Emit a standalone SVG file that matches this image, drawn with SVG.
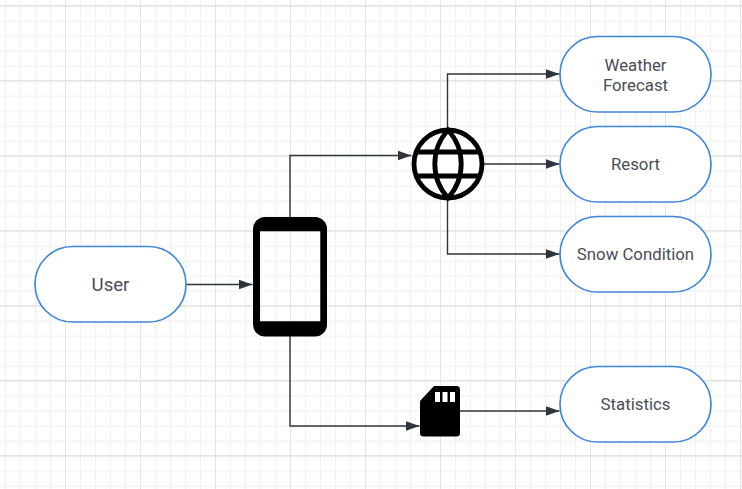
<svg xmlns="http://www.w3.org/2000/svg" width="742" height="489" viewBox="0 0 742 489">
<defs>
<marker id="arrow" markerUnits="userSpaceOnUse" markerWidth="15" markerHeight="11" refX="14" refY="5.500" orient="auto"><path d="M0 0.500L14 5.500L0 10.500Z" fill="#2f353c"/></marker>
<pattern id="minor" width="15" height="15" patternUnits="userSpaceOnUse" x="5" y="5.500">
<path d="M0.500 0V15" stroke="#f0f0f0" stroke-width="1" fill="none"/>
<path d="M0 0.500H15" stroke="#f3f3f3" stroke-width="2" fill="none"/>
</pattern>
<pattern id="major" width="75" height="75" patternUnits="userSpaceOnUse" x="65" y="5">
<path d="M0.500 0V75" stroke="#e4e4e4" stroke-width="1" fill="none"/>
<path d="M0 0.500H75" stroke="#e4e4e4" stroke-width="2" fill="none"/>
</pattern>
</defs>
<style>
.pill{fill:#fff;stroke:#3f87d9;stroke-width:1.700}
.lbl{font-family:Roboto,"Liberation Sans",sans-serif;font-size:16.800px;fill:#4a4e55;text-anchor:middle}
.conn{fill:none;stroke:#2f353c;stroke-width:1.400;marker-end:url(#arrow)}
</style>
<rect width="742" height="489" fill="#fff"/>
<rect width="742" height="489" fill="url(#minor)"/>
<rect width="742" height="489" fill="url(#major)"/>
<g id="connectors">
<path class="conn" d="M186.500 284.500H252.500"/>
<path class="conn" d="M290 217V155.500H411.500"/>
<path class="conn" d="M447.500 128V74H559.500"/>
<path class="conn" d="M484 164H559.500"/>
<path class="conn" d="M447.500 200V254H559.500"/>
<path class="conn" d="M290 336V426H419.500"/>
<path class="conn" d="M460 411H559.500"/>
</g>
<g id="user"><rect class="pill" x="35" y="246.500" width="151" height="75.500" rx="37.500"/><text class="lbl" x="110.500" y="291" style="font-size:18.600px">User</text></g>
<g id="phone"><path fill-rule="evenodd" fill="#000" d="M265 217H315a12 12 0 0 1 12 12V324.500a12 12 0 0 1-12 12H265a12 12 0 0 1-12-12V229a12 12 0 0 1 12-12ZM260 231.300V321.300H320.300V231.300Z"/></g>
<g id="globe" fill="none" stroke="#000" stroke-width="4.800">
<circle cx="448" cy="164" r="34" fill="#fff"/>
<path d="M448 130C438 141 434.800 153 434.800 164C434.800 175 438 187 448 198C458 187 461.200 175 461.200 164C461.200 153 458 141 448 130Z"/>
<path d="M417 152H479M417 176H479"/></g>
<g id="sdcard"><path d="M434 386H456.500a3.500 3.500 0 0 1 3.500 3.500V433a3.500 3.500 0 0 1-3.500 3.500H423.500a3.500 3.500 0 0 1-3.500-3.500V401Z" fill="#000"/>
<path d="M435 392h5v10h-5ZM442.500 392h5v10h-5ZM450 392h5v10h-5Z" fill="#fff"/></g>
<g id="weather"><rect class="pill" x="560" y="36.500" width="151" height="75.500" rx="37.500"/><text class="lbl" x="635.500" y="70.500">Weather</text><text class="lbl" x="635.500" y="90.500">Forecast</text></g>
<g id="resort"><rect class="pill" x="560" y="126.500" width="151" height="75.500" rx="37.500"/><text class="lbl" x="635.500" y="170">Resort</text></g>
<g id="snow"><rect class="pill" x="560" y="216.500" width="151" height="75.500" rx="37.500"/><text class="lbl" x="635.500" y="259.500">Snow Condition</text></g>
<g id="statistics"><rect class="pill" x="560" y="366.500" width="151" height="75.500" rx="37.500"/><text class="lbl" x="635.500" y="410">Statistics</text></g>
</svg>
